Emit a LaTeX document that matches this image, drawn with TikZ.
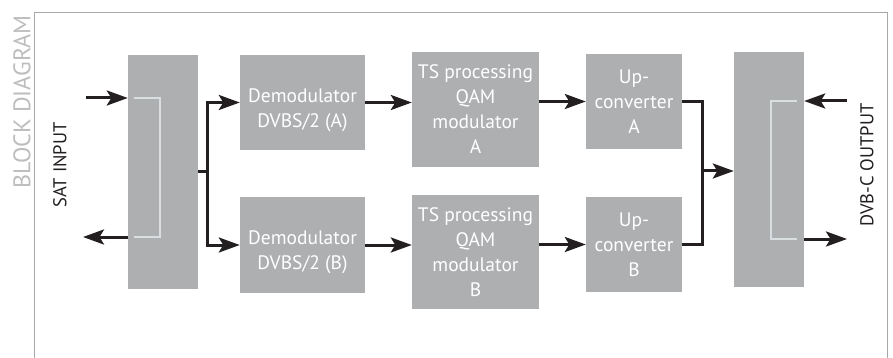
\documentclass[tikz,border=0pt]{standalone}
\usepackage{fontspec}
\setmainfont{PT Sans}
\usetikzlibrary{arrows.meta,calc}
\definecolor{boxgray}{HTML}{ADAFB0}
\definecolor{inkdark}{HTML}{231F20}
\definecolor{bracketgray}{HTML}{D9DFE1}
\definecolor{framegray}{HTML}{A8A8A8}
\definecolor{titlegray}{HTML}{BDBDBD}

\begin{document}
\begin{tikzpicture}[x=1pt,y=-1pt,
        blockbox/.style={fill=boxgray, text=white, align=center, inner sep=0pt,
                font=\fontsize{19.5}{25}\selectfont},
        arr/.style={-{Stealth[length=21pt,width=15pt,inset=4.5pt]}, line width=3pt, inkdark},
        wire/.style={line width=3pt, inkdark},
        brk/.style={line width=1.6pt, bracketgray},
        sidelabel/.style={rotate=90, font=\fontsize{18.5}{22}\selectfont}]
        \useasboundingbox (0,0) rectangle (893,358);
        \draw[framegray, line width=0.8pt](34,358)|-(887,12)--(887,358);
        \node[sidelabel, text=titlegray, font=\fontsize{24}{28}\selectfont](title) at (22,102){BLOCK DIAGRAM};
        \node[sidelabel, text=inkdark](satlabel) at (60,165){SAT INPUT};
        \node[sidelabel, text=inkdark](dvblabel) at (867,165){DVB-C OUTPUT};

        \node[blockbox, minimum width=70pt, minimum height=234pt](lsplit) at (163,172){};
        \node[blockbox, minimum width=125pt, minimum height=95pt](demA) at (302.5,102.5){\rule{0pt}{29pt}Demodulator\\DVBS/2 (A)};
        \node[blockbox, minimum width=125pt, minimum height=96pt](demB) at (302.5,245){\rule{0pt}{29pt}Demodulator\\DVBS/2 (B)};
        \node[blockbox, minimum width=127pt, minimum height=115pt](tsA) at (475.5,109.5){TS processing\\QAM\\modulator\\A};
        \node[blockbox, minimum width=127pt, minimum height=114pt](tsB) at (475.5,252){TS processing\\QAM\\modulator\\B};
        \node[blockbox, minimum width=96pt, minimum height=95pt](upA) at (634,101.5){Up-\\converter\\A};
        \node[blockbox, minimum width=96pt, minimum height=95pt](upB) at (634,244.5){Up-\\converter\\B};
        \node[blockbox, minimum width=70pt, minimum height=235pt](rsplit) at (769,169.5){};

        \draw[brk](134,98)-|(160,237)--(134,237);
        \draw[brk](797,101)-|(771,239)--(797,239);

        \coordinate(satin) at (86,98);
        \coordinate(satout) at (83,237);
        \coordinate(dvbin) at (847,101);
        \coordinate(dvbout) at (847,239);
        \draw[arr](satin)--(satin -| lsplit.west);
        \draw[arr](lsplit.west |- satout)--(satout);
        \draw[arr](dvbin)--(dvbin -| rsplit.east);
        \draw[arr](rsplit.east |- dvbout)--(dvbout);

        \draw[wire](lsplit.east)--++(9,0)coordinate(fork);
        \draw[arr](fork)|-(demA.west);
        \draw[arr](fork)|-(demB.west);
        \draw[arr](demA)--(tsA.west |- demA);
        \draw[arr](demB)--(tsB.west |- demB);
        \draw[arr](tsA.east |- upA)--(upA.west);
        \draw[arr](tsB.east |- upB)--(upB.west);

        \draw[wire](upA.east)--++(20,0)coordinate(joinA)|-(upB.east);
        \coordinate(merge) at ($(joinA)+(0,69.5)$);
        \draw[arr](merge)--(merge -| rsplit.west);
\end{tikzpicture}
\end{document}
